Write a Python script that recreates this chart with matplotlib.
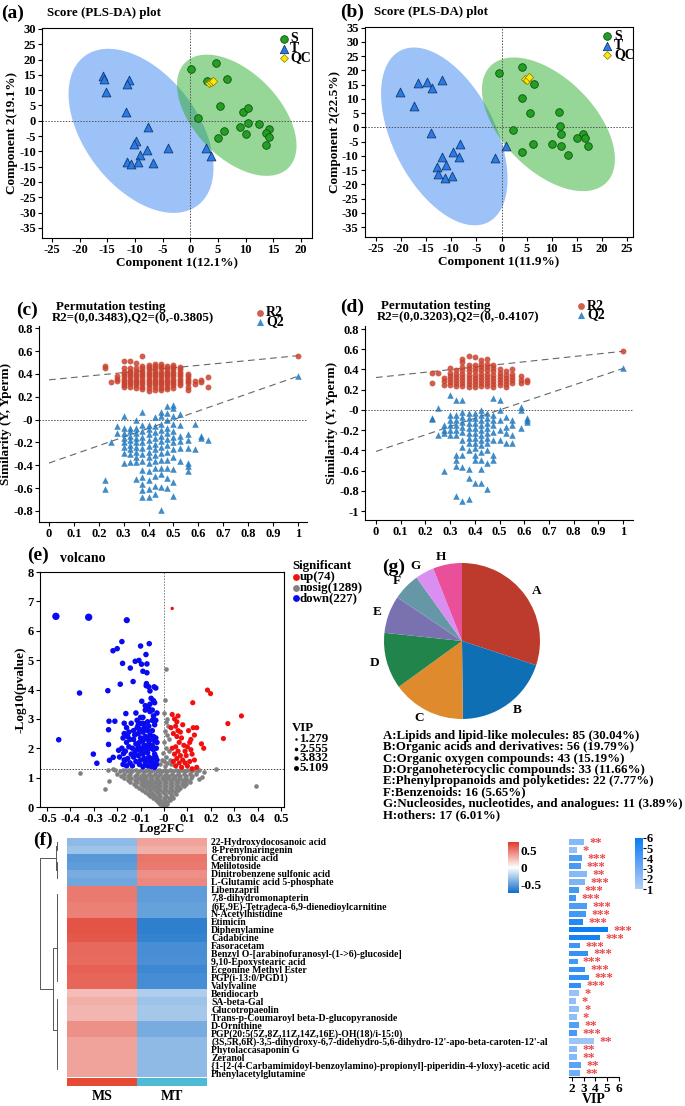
import numpy as np
import matplotlib
matplotlib.use('Agg')
import matplotlib.pyplot as plt
from matplotlib.colors import LinearSegmentedColormap, Normalize
from matplotlib.cm import ScalarMappable
from matplotlib.ticker import FuncFormatter

plt.rcParams['font.family'] = ['Liberation Serif', 'DejaVu Serif']
plt.rcParams['font.weight'] = 'bold'
plt.rcParams['axes.labelweight'] = 'bold'
plt.rcParams['axes.unicode_minus'] = False
plt.rcParams['axes.linewidth'] = 0.8
plt.rcParams['xtick.major.width'] = 0.8
plt.rcParams['ytick.major.width'] = 0.8
plt.rcParams['xtick.major.size'] = 3
plt.rcParams['ytick.major.size'] = 3
plt.rcParams['xtick.major.pad'] = 1.5
plt.rcParams['ytick.major.pad'] = 1.5

# ======================= DATA =======================
# (a) PLS-DA scores
a_S_x = [0.15, 4.7, 6.65, 3.05, 5.45, 1.4, 9.55, 10.4, 9.0, 10.5, 12.4, 14.2, 13.6, 14.2, 6.05, 5.0, 10.0, 13.6]
a_S_y = [16.9, 18.9, 13.8, 12.9, 4.9, 0.9, 2.8, 4.1, -2.2, -0.8, -1.0, -2.8, -3.9, -5.2, -3.5, -5.5, -4.4, -7.9]
a_T_x = [-15.85, -15.55, -15.2, -11.0, -11.4, -11.6, -7.6, -9.8, -10.1, -7.8, -4.1, -9.05, -11.4, -10.7, -9.5, -6.65, 2.8, 3.7]
a_T_y = [14.7, 13.8, 9.5, 13.3, 12.0, 3.0, -1.9, -6.5, -7.7, -9.7, -8.9, -11.1, -13.4, -14.1, -13.5, -13.7, -8.8, -11.4]
a_QC_x = [3.4, 3.8, 4.1]
a_QC_y = [12.2, 12.7, 13.0]
# (b) PLS-DA scores
b_S_x = [-0.5, 4.0, 6.4, 4.1, 5.7, 2.2, 11.4, 11.7, 11.8, 16.2, 15.1, 16.7, 17.2, 10.1, 11.9, 13.3, 6.3, 4.1]
b_S_y = [19.0, 21.1, 15.3, 10.3, 4.9, -0.8, 5.5, 0.6, -2.2, -2.3, -3.9, -3.9, -6.6, -6.0, -6.7, -9.7, -6.0, -8.8]
b_T_x = [-20.2, -16.7, -14.9, -13.9, -11.8, -17.5, -14.1, -8.25, -9.6, -11.8, -8.4, -11.0, -12.9, -12.7, -11.2, -9.8, -1.2, 0.8]
b_T_y = [12.3, 15.6, 15.8, 13.7, 16.5, 7.6, -2.0, -6.0, -8.7, -10.4, -10.5, -13.2, -13.8, -16.3, -17.7, -17.2, -10.9, -6.7]
b_QC_x = [4.6, 5.0, 5.4]
b_QC_y = [17.0, 16.5, 17.7]

# (c) permutation test: x = correlation, lists of similarity values per column
c_cols = [0.225, 0.25, 0.275, 0.30, 0.325, 0.35, 0.375, 0.40, 0.425, 0.45, 0.475, 0.50, 0.525, 0.56, 0.585, 0.61, 0.64, 1.0]
c_R2 = [[0.47, 0.45], [0.33], [0.38, 0.36, 0.34],
        [0.51, 0.45, 0.42, 0.40, 0.38, 0.36, 0.34, 0.32, 0.30, 0.29],
        [0.51, 0.45, 0.43, 0.41, 0.39, 0.37, 0.35, 0.33, 0.31, 0.29],
        [0.50, 0.45, 0.43, 0.40, 0.38, 0.36, 0.34, 0.32, 0.30, 0.28],
        [0.56, 0.47, 0.45, 0.43, 0.41, 0.39, 0.37, 0.35, 0.33, 0.31, 0.29, 0.27],
        [0.48, 0.46, 0.44, 0.42, 0.40, 0.38, 0.36, 0.34, 0.32, 0.30, 0.28, 0.25],
        [0.49, 0.47, 0.45, 0.43, 0.41, 0.39, 0.37, 0.35, 0.33, 0.31, 0.29, 0.26],
        [0.49, 0.47, 0.45, 0.42, 0.40, 0.38, 0.36, 0.34, 0.32, 0.30, 0.28, 0.26],
        [0.47, 0.45, 0.43, 0.41, 0.39, 0.37, 0.35, 0.33, 0.31, 0.29, 0.27],
        [0.48, 0.46, 0.44, 0.42, 0.40, 0.38, 0.36, 0.34, 0.32, 0.30, 0.28],
        [0.46, 0.44, 0.42, 0.40, 0.38, 0.36, 0.34, 0.32, 0.30],
        [0.40, 0.38, 0.36, 0.34, 0.32, 0.29, 0.26],
        [0.34, 0.31], [0.35, 0.33], [0.37, 0.29], [0.56]]
c_Q2 = [[-0.53, -0.61], [-0.20], [-0.06, -0.12],
        [0.03, -0.07, -0.12, -0.16, -0.20, -0.24, -0.29, -0.38],
        [-0.07, -0.10, -0.14, -0.18, -0.22, -0.26, -0.30, -0.37],
        [0.00, -0.07, -0.12, -0.16, -0.20, -0.24, -0.28, -0.33, -0.37, -0.52],
        [0.07, -0.05, -0.10, -0.15, -0.20, -0.25, -0.30, -0.36, -0.44, -0.50, -0.56, -0.62, -0.68],
        [-0.05, -0.08, -0.13, -0.18, -0.23, -0.28, -0.33, -0.38, -0.45, -0.53, -0.61, -0.68],
        [0.02, -0.06, -0.11, -0.16, -0.21, -0.26, -0.31, -0.36, -0.42, -0.49, -0.58, -0.65],
        [0.07, 0.03, -0.04, -0.09, -0.14, -0.19, -0.24, -0.29, -0.35, -0.42, -0.48, -0.59, -0.79],
        [0.12, 0.06, 0.00, -0.07, -0.12, -0.17, -0.22, -0.28, -0.35, -0.42, -0.51, -0.60],
        [0.13, 0.10, 0.03, -0.04, -0.10, -0.15, -0.20, -0.26, -0.33, -0.43, -0.55, -0.67],
        [0.05, -0.05, -0.14, -0.19, -0.25, -0.36],
        [-0.13, -0.18, -0.25, -0.38, -0.41, -0.45],
        [-0.04, -0.26], [-0.14, -0.16], [-0.18], [0.38]]
c_R2_line = (0.3483, 0.56)
c_Q2_line = (-0.3805, 0.38)

# (d) permutation test
d_cols = [0.225, 0.25, 0.275, 0.30, 0.325, 0.35, 0.375, 0.40, 0.425, 0.45, 0.475, 0.50, 0.525, 0.55, 0.585, 0.61, 1.0]
d_R2 = [[0.37, 0.27], [0.37], [0.32, 0.29, 0.25],
        [0.41, 0.37, 0.34, 0.31, 0.28, 0.25],
        [0.39, 0.36, 0.33, 0.30, 0.27, 0.24],
        [0.50, 0.47, 0.42, 0.39, 0.36, 0.33, 0.30, 0.27, 0.24],
        [0.53, 0.44, 0.41, 0.38, 0.35, 0.32, 0.29, 0.26, 0.23],
        [0.52, 0.44, 0.41, 0.38, 0.35, 0.32, 0.29, 0.26, 0.23],
        [0.49, 0.45, 0.42, 0.39, 0.36, 0.33, 0.30, 0.27, 0.24],
        [0.50, 0.45, 0.42, 0.39, 0.36, 0.33, 0.30, 0.27, 0.24],
        [0.44, 0.41, 0.38, 0.35, 0.32, 0.29, 0.26, 0.23],
        [0.40, 0.37, 0.34, 0.31, 0.28, 0.25],
        [0.38, 0.35, 0.32, 0.29, 0.26, 0.23],
        [0.40, 0.36, 0.33, 0.30, 0.27],
        [0.34, 0.30, 0.27], [0.30, 0.28], [0.58]]
d_Q2 = [[-0.08, -0.09], [0.02, -0.25], [-0.15, -0.20, -0.23, -0.60],
        [0.15, -0.05, -0.10, -0.15, -0.20, -0.25],
        [0.10, -0.05, -0.10, -0.15, -0.20, -0.25, -0.45, -0.50, -0.55, -0.85],
        [0.10, -0.02, -0.07, -0.12, -0.17, -0.22, -0.30, -0.37, -0.45, -0.56, -0.90],
        [-0.03, -0.08, -0.13, -0.18, -0.23, -0.28, -0.33, -0.40, -0.58, -0.67, -0.88],
        [-0.03, -0.08, -0.13, -0.18, -0.23, -0.28, -0.33, -0.38, -0.45, -0.50, -0.72],
        [0.00, -0.05, -0.10, -0.15, -0.20, -0.25, -0.30, -0.35, -0.42, -0.50, -0.58, -0.72],
        [-0.03, -0.08, -0.13, -0.18, -0.23, -0.28, -0.33, -0.40, -0.53, -0.78],
        [0.12, -0.05, -0.10, -0.15, -0.22, -0.30, -0.45, -0.50],
        [0.10, 0.00, -0.10, -0.20, -0.30],
        [-0.07, -0.17, -0.23, -0.33],
        [-0.10, -0.15, -0.25, -0.33],
        [0.03, 0.00, -0.18], [-0.08, -0.10, -0.12], [0.41]]
d_R2_line = (0.3203, 0.58)
d_Q2_line = (-0.4107, 0.41)

# (e) volcano
down_pts = [(-0.462, 6.49), (-0.322, 6.46), (-0.159, 6.36), (-0.361, 3.88), (-0.45, 2.29), (-0.302, 1.80),
            (-0.287, 1.49), (-0.18, 5.63), (-0.2, 5.39), (-0.218, 5.32), (-0.177, 4.89), (-0.187, 4.18),
            (-0.24, 3.96), (-0.144, 4.73), (-0.132, 4.27), (-0.1, 5.48), (-0.063, 5.56), (-0.123, 4.96),
            (-0.107, 4.99), (-0.096, 4.86), (-0.073, 4.87), (-0.077, 5.19), (-0.09, 4.62), (-0.073, 4.57),
            (-0.076, 4.13), (-0.065, 4.09), (-0.042, 4.09), (-0.235, 2.92), (-0.237, 2.63), (-0.237, 2.13),
            (-0.233, 1.59), (-0.217, 1.69), (-0.21, 2.92), (-0.194, 1.93), (-0.163, 3.18), (-0.17, 2.85),
            (-0.173, 1.82), (-0.166, 1.59), (-0.075, 4.2), (-0.06, 3.95), (-0.055, 3.7), (-0.045, 3.62),
            (-0.07, 3.4), (-0.08, 3.3), (-0.065, 3.35), (-0.06, 3.25), (-0.09, 3.05), (-0.1, 2.85),
            (-0.085, 2.82), (-0.115, 2.7), (-0.16, 2.7), (-0.15, 2.55), (-0.155, 2.4), (-0.145, 2.3),
            (-0.16, 2.2), (-0.15, 2.05), (-0.165, 1.9), (-0.14, 1.8), (-0.155, 1.65), (-0.145, 1.5),
            (-0.16, 1.4), (-0.13, 2.6), (-0.125, 2.45), (-0.13, 2.3), (-0.12, 2.15), (-0.135, 2.0),
            (-0.125, 1.85), (-0.13, 1.7), (-0.12, 1.55), (-0.135, 1.4), (-0.11, 2.8), (-0.105, 2.65),
            (-0.11, 2.5), (-0.1, 2.35), (-0.105, 2.2), (-0.11, 2.05), (-0.1, 1.9), (-0.11, 1.75),
            (-0.1, 1.6), (-0.105, 1.45), (-0.09, 2.85), (-0.085, 2.7), (-0.09, 2.55), (-0.08, 2.4),
            (-0.09, 2.25), (-0.085, 2.1), (-0.08, 1.95), (-0.09, 1.8), (-0.085, 1.65), (-0.08, 1.5),
            (-0.09, 1.37), (-0.07, 2.9), (-0.065, 2.75), (-0.07, 2.6), (-0.06, 2.45), (-0.07, 2.3),
            (-0.065, 2.15), (-0.06, 2.0), (-0.07, 1.85), (-0.065, 1.7), (-0.06, 1.55), (-0.07, 1.4),
            (-0.05, 3.3), (-0.045, 3.1), (-0.05, 2.95), (-0.04, 2.8), (-0.05, 2.6), (-0.045, 2.4),
            (-0.04, 2.25), (-0.05, 2.1), (-0.045, 1.95), (-0.04, 1.8), (-0.05, 1.65), (-0.045, 1.5),
            (-0.04, 1.35), (-0.035, 2.35), (-0.033, 2.0), (-0.035, 1.7), (-0.032, 1.45), (-0.08, 3.45),
            (-0.06, 3.5), (-0.095, 3.6), (-0.1, 3.05), (-0.12, 3.2), (-0.14, 2.85), (-0.17, 2.5),
            (-0.175, 2.35), (-0.18, 2.0), (-0.17, 1.6), (-0.175, 1.45), (-0.19, 1.7), (-0.115, 2.95),
            (-0.035, 2.95), (-0.03, 3.2), (-0.04, 3.55), (-0.035, 4.05), (-0.055, 1.38), (-0.03, 1.6),
            (-0.03, 2.2), (-0.075, 2.05), (-0.095, 2.0), (-0.115, 1.95), (-0.055, 2.3), (-0.075, 1.6)]
up_pts = [(0.035, 6.76), (0.186, 3.98), (0.199, 3.86), (0.123, 3.55), (0.331, 3.10), (0.273, 2.84),
          (0.254, 2.33), (0.035, 3.15), (0.045, 3.0), (0.055, 2.9), (0.05, 2.75), (0.06, 2.6),
          (0.04, 2.5), (0.055, 2.4), (0.07, 2.55), (0.075, 2.35), (0.065, 2.2), (0.05, 2.05),
          (0.06, 1.9), (0.045, 1.8), (0.055, 1.65), (0.07, 1.75), (0.08, 1.6), (0.065, 1.5),
          (0.05, 1.4), (0.09, 1.9), (0.1, 2.05), (0.095, 1.75), (0.11, 1.55), (0.1, 1.4),
          (0.12, 1.8), (0.115, 2.3), (0.105, 2.6), (0.13, 2.45), (0.125, 2.7), (0.14, 2.7),
          (0.11, 2.2), (0.085, 2.1), (0.09, 1.5), (0.075, 1.35), (0.13, 1.6), (0.14, 1.35),
          (0.16, 2.15), (0.17, 2.0), (0.12, 1.3), (0.04, 1.55), (0.035, 2.0), (0.03, 2.7),
          (0.06, 3.1), (0.115, 1.95), (0.08, 2.8)]
nosig_rows = [
    (1.27, [-0.21, -0.175, -0.15, -0.12, -0.095, -0.07, -0.045, -0.02, 0.005, 0.025, 0.05, 0.075, 0.1, 0.125, 0.15]),
    (1.21, [-0.19, -0.16, -0.135, -0.105, -0.08, -0.055, -0.03, -0.01, 0.015, 0.04, 0.065, 0.09, 0.115, 0.14]),
    (1.14, [-0.2, -0.17, -0.145, -0.115, -0.09, -0.065, -0.04, -0.015, 0.01, 0.035, 0.06, 0.085, 0.11, 0.135]),
    (1.07, [-0.185, -0.155, -0.125, -0.1, -0.075, -0.05, -0.025, 0.0, 0.02, 0.045, 0.07, 0.095, 0.12]),
    (1.0, [-0.17, -0.14, -0.11, -0.085, -0.06, -0.035, -0.01, 0.015, 0.04, 0.065, 0.09, 0.115]),
    (0.93, [-0.155, -0.125, -0.1, -0.075, -0.05, -0.025, 0.0, 0.025, 0.05, 0.075, 0.1]),
    (0.86, [-0.145, -0.115, -0.09, -0.065, -0.04, -0.015, 0.01, 0.035, 0.06, 0.085, 0.11]),
    (0.79, [-0.13, -0.1, -0.075, -0.05, -0.025, 0.0, 0.025, 0.05, 0.075, 0.095]),
    (0.72, [-0.12, -0.09, -0.065, -0.04, -0.015, 0.01, 0.035, 0.06, 0.085]),
    (0.65, [-0.105, -0.075, -0.05, -0.025, 0.0, 0.025, 0.05, 0.07]),
    (0.58, [-0.095, -0.065, -0.04, -0.015, 0.01, 0.035, 0.06]),
    (0.51, [-0.08, -0.055, -0.03, -0.005, 0.02, 0.045]),
    (0.44, [-0.07, -0.045, -0.02, 0.005, 0.03, 0.05]),
    (0.37, [-0.06, -0.04, -0.015, 0.01, 0.035]),
    (0.30, [-0.045, -0.025, 0.0, 0.02, 0.04]),
    (0.23, [-0.035, -0.015, 0.005, 0.025]),
    (0.16, [-0.025, -0.005, 0.015]),
    (0.09, [-0.015, 0.0, 0.012]),
    (0.03, [-0.005, 0.005]),
]
nosig_extra = [(0.005, 1.4), (0.0, 1.55), (0.01, 1.7), (-0.005, 1.85), (0.008, 2.0), (0.0, 2.2), (0.012, 2.45),
               (0.003, 2.6), (0.01, 2.9), (0.002, 3.2), (0.004, 3.63), (0.008, 4.69), (0.015, 1.5), (0.02, 1.9),
               (0.02, 2.3), (0.025, 1.6), (-0.015, 1.45), (-0.01, 1.6), (0.018, 2.75), (0.015, 3.0), (0.03, 1.45),
               (-0.361, 1.16), (-0.254, 0.62), (-0.234, 0.89), (0.223, 1.28), (0.161, 1.01), (0.392, 0.70),
               (0.17, 1.2), (0.15, 0.95), (-0.24, 1.25), (-0.22, 1.3)]
volcano_counts = {'up': 74, 'nosig': 1289, 'down': 227}
vip_legend = [1.279, 2.555, 3.832, 5.109]

# (g) pie
pie_letters = ['A', 'B', 'C', 'D', 'E', 'F', 'G', 'H']
pie_names = ['Lipids and lipid-like molecules', 'Organic acids and derivatives', 'Organic oxygen compounds',
             'Organoheterocyclic compounds', 'Phenylpropanoids and polyketides', 'Benzenoids',
             'Nucleosides, nucleotides, and analogues', 'others']
pie_counts = [85, 56, 43, 33, 22, 16, 11, 17]
pie_colors = ['#bd3b2c', '#0f6fb4', '#df8a2c', '#21844a', '#7a72b0', '#6697a7', '#d98ff2', '#ea4f9a']

# (f) heatmap + VIP
metabolites = ['22-Hydroxydocosanoic acid', '8-Prenylnaringenin', 'Cerebronic acid', 'Melilotoside',
               'Dinitrobenzene sulfonic acid', 'L-Glutamic acid 5-phosphate', 'Libenzapril',
               '7,8-dihydromonapterin', '(6E,9E)-Tetradeca-6,9-dienedioylcarnitine', 'N-Acetylhistidine',
               'Etimicin', 'Diphenylamine', 'Cadabicine', 'Fasoracetam',
               'Benzyl O-[arabinofuranosyl-(1->6)-glucoside]', '9,10-Epoxystearic acid',
               'Ecgonine Methyl Ester', 'PGP(i-13:0/PGD1)', 'Valylvaline', 'Bendiocarb', 'SA-beta-Gal',
               'Glucotropaeolin', 'Trans-p-Coumaroyl beta-D-glucopyranoside', 'D-Ornithine',
               'PGP(20:5(5Z,8Z,11Z,14Z,16E)-OH(18)/i-15:0)',
               "(3S,5R,6R)-3,5-dihydroxy-6,7-didehydro-5,6-dihydro-12'-apo-beta-caroten-12'-al",
               'Phytolaccasaponin G', 'Zeranol',
               '{1-[2-(4-Carbamimidoyl-benzoylamino)-propionyl]-piperidin-4-yloxy}-acetic acid',
               'Phenylacetylglutamine']
groups = ['MS', 'MT']
MS_vals = [-0.35, -0.30, -0.52, -0.50, -0.42, -0.45, 0.50, 0.50, 0.48, 0.48, 0.65, 0.65, 0.63, 0.57, 0.57,
           0.56, 0.60, 0.58, 0.58, 0.25, 0.30, 0.28, 0.28, 0.42, 0.42, 0.35, 0.35, 0.35, 0.35, 0.35]
MT_vals = [0.35, 0.30, 0.52, 0.50, 0.42, 0.45, -0.50, -0.50, -0.48, -0.48, -0.65, -0.65, -0.63, -0.57, -0.57,
           -0.56, -0.60, -0.58, -0.58, -0.25, -0.30, -0.28, -0.28, -0.42, -0.42, -0.35, -0.35, -0.35, -0.35, -0.35]
vip = [3.05, 2.43, 2.88, 2.77, 3.28, 3.10, 2.62, 2.40, 3.33, 3.22, 2.96, 5.09, 4.40, 2.70, 3.36, 2.50, 3.13,
       3.45, 2.79, 2.65, 2.37, 2.60, 2.45, 2.62, 2.43, 3.87, 2.43, 2.43, 2.79, 2.73]
vip_color = [2.3, 1.9, 4.0, 4.2, 2.3, 2.6, 4.3, 4.3, 4.0, 4.3, 5.2, 5.9, 5.6, 4.4, 4.7, 4.3, 4.7, 4.8, 4.8,
             1.8, 2.0, 2.0, 2.0, 3.8, 4.2, 1.6, 2.1, 2.4, 3.6, 3.0]
stars = [2, 1, 3, 3, 2, 3, 3, 3, 3, 3, 3, 3, 3, 3, 3, 3, 3, 3, 3, 1, 1, 1, 1, 2, 3, 2, 2, 2, 2, 2]
# row dendrogram: (height, left, right), leaves are row indices
dendro = (1.0,
          (0.11, (0.03, 0, 1), (0.05, (0.02, 2, 3), (0.02, 4, 5))),
          (0.29,
           (0.06, (0.045, (0.03, (0.01, 6, 7), (0.015, 8, 9)), (0.035, (0.02, 10, (0.01, 11, 12)),
                                                              (0.02, 13, (0.01, 14, 15)))),
            (0.03, 16, (0.015, 17, 18))),
           (0.06, (0.04, (0.025, 19, (0.01, 20, 21)), (0.015, 22, 23)),
            (0.045, (0.02, 24, 25), (0.03, (0.01, 26, 27), (0.015, 28, 29))))))

# ======================= LAYOUT =======================
W, H = 685, 1106
fig = plt.figure(figsize=(W / 100, H / 100), dpi=100)


def box(x0, y0, x1, y1):
    return [x0 / W, 1 - y1 / H, (x1 - x0) / W, (y1 - y0) / H]


fmt = FuncFormatter(lambda v, p: '%g' % round(v, 3))
BLUE_T = '#2a7be6'
GREEN_S = '#23a023'
TICK_FS = 9


def ellipse(ax, cx, cy, sx, sy, r, color):
    t = np.linspace(0, 2 * np.pi, 300)
    ax.fill(cx + sx * np.cos(t), cy + sy * (r * np.cos(t) + np.sqrt(1 - r * r) * np.sin(t)),
            color=color, alpha=0.5, lw=0, zorder=1)


def pls_panel(rect, S_x, S_y, T_x, T_y, Q_x, Q_y, xlim, ylim, xticks, yticks, ell_T, ell_S, xl, yl):
    ax = fig.add_axes(rect)
    ellipse(ax, *ell_T, '#3b86f0')
    ellipse(ax, *ell_S, '#2fae2f')
    ax.axhline(0, color='#555555', ls=(0, (1.5, 1.5)), lw=0.7, zorder=2)
    ax.axvline(0, color='#555555', ls=(0, (1.5, 1.5)), lw=0.7, zorder=2)
    ax.scatter(T_x, T_y, marker='^', s=40, c=BLUE_T, edgecolors='#123a70', linewidths=0.6, zorder=3)
    ax.scatter(S_x, S_y, marker='o', s=30, c=GREEN_S, edgecolors='#0f4f0f', linewidths=0.6, zorder=3)
    ax.scatter(Q_x, Q_y, marker='D', s=18, c='#fbe90a', edgecolors='#8a7a00', linewidths=0.5, zorder=4)
    ax.set_xlim(*xlim)
    ax.set_ylim(*ylim)
    ax.set_xticks(xticks)
    ax.set_yticks(yticks)
    ax.xaxis.set_major_formatter(fmt)
    ax.yaxis.set_major_formatter(fmt)
    ax.tick_params(labelsize=TICK_FS)
    ax.set_xlabel(xl, fontsize=9.5, labelpad=0.5)
    ax.set_ylabel(yl, fontsize=9.5, labelpad=1)
    return ax


ax_a = pls_panel(box(42, 28, 312, 238), a_S_x, a_S_y, a_T_x, a_T_y, a_QC_x, a_QC_y,
                 (-26.8, 22.0), (-38.3, 30.3), range(-25, 21, 5), range(-35, 31, 5),
                 (-8.9, -3.3, 13.1, 26.8, -0.45), (8.4, 1.8, 10.8, 19.8, -0.5),
                 'Component 1(12.1%)', 'Component 2(19.1%)')
ax_b = pls_panel(box(365, 27, 633, 237), b_S_x, b_S_y, b_T_x, b_T_y, b_QC_x, b_QC_y,
                 (-27.2, 26.2), (-38.5, 35.2), range(-25, 26, 5), range(-35, 36, 5),
                 (-11.4, -3.2, 12.6, 31.2, -0.48), (9.35, 1.05, 13.25, 23.45, -0.52),
                 'Component 1(11.9%)', 'Component 2(22.5%)')


def perm_panel(rect, cols, R2, Q2, R2line, Q2line, xlim, ylim, yticks):
    ax = fig.add_axes(rect)
    rx = [c for c, vals in zip(cols, R2) for v in vals]
    ry = [v for c, vals in zip(cols, R2) for v in vals]
    qx = [c for c, vals in zip(cols, Q2) for v in vals]
    qy = [v for c, vals in zip(cols, Q2) for v in vals]
    ax.axhline(0, color='#555555', ls=(0, (1.5, 1.5)), lw=0.7, zorder=1)
    ax.plot([0, 1], list(R2line), color='#666666', ls=(0, (6, 4)), lw=0.8, zorder=1)
    ax.plot([0, 1], list(Q2line), color='#666666', ls=(0, (6, 4)), lw=0.8, zorder=1)
    ax.scatter(rx, ry, marker='o', s=18, c='#c8432f', alpha=0.85, linewidths=0, zorder=2)
    ax.scatter(qx, qy, marker='^', s=22, c='#1f78be', alpha=0.85, linewidths=0, zorder=2)
    ax.set_xlim(*xlim)
    ax.set_ylim(*ylim)
    ax.set_xticks(np.round(np.arange(0, 1.01, 0.1), 2))
    ax.set_yticks(yticks)
    ax.xaxis.set_major_formatter(fmt)
    ax.yaxis.set_major_formatter(fmt)
    ax.spines['top'].set_visible(False)
    ax.spines['right'].set_visible(False)
    ax.tick_params(labelsize=TICK_FS)
    return ax


ax_c = perm_panel(box(39, 326, 307, 522), c_cols, c_R2, c_Q2, c_R2_line, c_Q2_line,
                  (-0.04, 1.036), (-0.897, 0.82), np.round(np.arange(-0.8, 0.81, 0.2), 1))
ax_c.set_ylabel('Similarity (Y, Yperm)', fontsize=9.5, labelpad=1)
ax_d = perm_panel(box(365, 326, 633, 520), d_cols, d_R2, d_Q2, d_R2_line, d_Q2_line,
                  (-0.0445, 1.04), (-1.089, 0.83), np.round(np.arange(-1.0, 0.81, 0.2), 1))
ax_d.set_ylabel('Similarity (Y, Yperm)', fontsize=9.5, labelpad=1)

# (e) volcano
ax_e = fig.add_axes(box(40, 572, 284, 807))
gx = [x for y, xs in nosig_rows for x in xs] + [p[0] for p in nosig_extra]
gy = [y for y, xs in nosig_rows for x in xs] + [p[1] for p in nosig_extra]
ax_e.scatter(gx, gy, s=11, c='#808080', linewidths=0, zorder=2)
ax_e.scatter([p[0] for p in up_pts], [p[1] for p in up_pts], s=[6] + [14] * (len(up_pts) - 1),
             c='#f01010', linewidths=0, zorder=3)
ax_e.scatter([p[0] for p in down_pts], [p[1] for p in down_pts], s=[28, 28, 20] + [16] * (len(down_pts) - 3),
             c='#0a0af0', linewidths=0, zorder=3)
ax_e.axhline(-np.log10(0.05), color='#444444', ls=(0, (1.5, 1.5)), lw=0.7, zorder=1)
ax_e.axvline(0, color='#777777', ls=(0, (1.5, 1.5)), lw=0.7, zorder=1)
ax_e.set_xlim(-0.53, 0.513)
ax_e.set_ylim(0, 8)
ax_e.set_xticks(np.round(np.arange(-0.5, 0.51, 0.1), 1))
ax_e.set_yticks(range(0, 9))
ax_e.xaxis.set_major_formatter(fmt)
ax_e.tick_params(labelsize=TICK_FS)
ax_e.set_xlabel('Log2FC', fontsize=9.5, labelpad=-1.5)
ax_e.set_ylabel('-Log10(pvalue)', fontsize=9.5, labelpad=1)

# (g) pie
ax_g = fig.add_axes(box(384, 563, 540, 719))
ax_g.pie(pie_counts, colors=pie_colors, labels=pie_letters, startangle=90, counterclock=False,
         labeldistance=1.1, textprops=dict(fontsize=9.5, fontweight='bold'))
ax_g.set_xlim(-1, 1)
ax_g.set_ylim(-1, 1)
ax_g.set_aspect('equal')

# (f) heatmap
cmap_h = LinearSegmentedColormap.from_list('hm', ['#0f6cc8', '#ffffff', '#e03a2a'])
ax_h = fig.add_axes(box(67, 838, 207, 1077))
hm = np.array([MS_vals, MT_vals]).T
ax_h.imshow(hm, cmap=cmap_h, vmin=-0.75, vmax=0.75, aspect='auto', interpolation='nearest')
ax_h.set_xticks([])
ax_h.yaxis.tick_right()
ax_h.set_yticks(range(len(metabolites)))
ax_h.set_yticklabels(metabolites, fontsize=7)
ax_h.tick_params(axis='y', length=0, pad=3)
for s in ax_h.spines.values():
    s.set_visible(False)

ax_grp = fig.add_axes(box(67, 1078, 207, 1086))
ax_grp.imshow([[0, 1]], cmap=LinearSegmentedColormap.from_list('g', ['#e64a35', '#4dbbd5']), aspect='auto')
ax_grp.axis('off')

ax_den = fig.add_axes(box(38, 838, 58, 1077))


def draw_tree(node):
    if isinstance(node, int):
        return node, 0.0
    h, l, r = node
    yl, hl = draw_tree(l)
    yr, hr = draw_tree(r)
    ax_den.plot([hl, h, h, hr], [yl, yl, yr, yr], color='#555555', lw=0.7)
    return (yl + yr) / 2, h


draw_tree(dendro)
ax_den.set_xlim(1.1, 0)
ax_den.set_ylim(len(metabolites) - 0.5, -0.5)
ax_den.axis('off')

# VIP bars
cmap_v = LinearSegmentedColormap.from_list('vip', ['#b3cff6', '#0a7bf5'])
norm_v = Normalize(1, 6)
ax_v = fig.add_axes(box(569, 838, 619, 1077))
yy = np.arange(len(vip))
ax_v.barh(yy, vip, height=0.72, color=cmap_v(norm_v(vip_color)))
for i, (v, n) in enumerate(zip(vip, stars)):
    ax_v.text(v + 0.45, i + 0.5, '*' * n, color='#e8474a', fontsize=9, va='baseline', ha='left',
              clip_on=False)
ax_v.set_xlim(1.77, 6.0)
ax_v.set_ylim(len(vip) - 0.5, -0.5)
ax_v.set_xticks([2, 3, 4, 5, 6])
ax_v.set_yticks([])
for k in ['top', 'right', 'left']:
    ax_v.spines[k].set_visible(False)
ax_v.tick_params(axis='x', labelsize=9.5, length=3, pad=1)
ax_v.set_xlabel('VIP', fontsize=10, labelpad=-1)

# colorbars
cax1 = fig.add_axes(box(508, 842, 519, 893))
cb1 = fig.colorbar(ScalarMappable(Normalize(-0.75, 0.75), cmap_h), cax=cax1, ticks=[0.5, 0, -0.5])
cb1.ax.set_yticklabels(['0.5', '0', '-0.5'], fontsize=9.5)
cb1.outline.set_visible(False)
cb1.ax.tick_params(length=0, pad=1)
cax2 = fig.add_axes(box(635, 838, 643, 889))
cb2 = fig.colorbar(ScalarMappable(norm_v, cmap_v), cax=cax2, ticks=[1, 2, 3, 4, 5, 6])
cb2.ax.set_yticklabels(['1', '2', '3', '4', '5', '6'], fontsize=9)
cb2.outline.set_visible(False)
cb2.ax.tick_params(length=2, pad=0.5)

# ======================= OVERLAY TEXT / LEGENDS =======================
ov = fig.add_axes([0, 0, 1, 1])
ov.set_xlim(0, W)
ov.set_ylim(H, 0)
ov.axis('off')


def label(x, y, s, size=14):
    ov.text(x, y, s, fontsize=size, fontweight='bold', va='center', ha='left')


label(1, 13, '(a)'); label(340, 12, '(b)'); label(16, 310, '(c)'); label(340, 307, '(d)')
label(27, 555, '(e)'); label(33, 840, '(f)'); label(382, 567, '(g)')
ov.text(47, 13, 'Score (PLS-DA) plot', fontsize=9.3, va='center')
ov.text(374, 12, 'Score (PLS-DA) plot', fontsize=9.3, va='center')
ov.text(56, 307, 'Permutation testing', fontsize=9.3, va='center')
ov.text(52, 318, 'R2=(0,%s),Q2=(0,%s)' % (c_R2_line[0], c_Q2_line[0]), fontsize=9.3, va='center')
ov.text(381, 306, 'Permutation testing', fontsize=9.3, va='center')
ov.text(377, 317, 'R2=(0,%s),Q2=(0,%s)' % (d_R2_line[0], d_Q2_line[0]), fontsize=9.3, va='center')
ov.text(60, 558, 'volcano', fontsize=10, va='center')

# PLS legends
for (mx, my0, tx) in [(284, 39, 290), (607, 36, 614)]:
    ov.scatter([mx], [my0], marker='o', s=30, c=GREEN_S, edgecolors='#0f4f0f', linewidths=0.6)
    ov.scatter([mx], [my0 + 9.5], marker='^', s=36, c=BLUE_T, edgecolors='#123a70', linewidths=0.6)
    ov.scatter([mx], [my0 + 19], marker='D', s=16, c='#fbe90a', edgecolors='#8a7a00', linewidths=0.5)
    for k, t in enumerate(['S', 'T', 'QC']):
        ov.text(tx, my0 + 9.5 * k, t, fontsize=10, va='center')
# permutation legends
for (mx, my0) in [(260, 313), (581, 306)]:
    ov.scatter([mx], [my0], marker='o', s=24, c='#c8432f', alpha=0.85, linewidths=0)
    ov.scatter([mx], [my0 + 9], marker='^', s=26, c='#1f78be', alpha=0.85, linewidths=0)
    ov.text(mx + 6, my0, 'R2', fontsize=10, va='center')
    ov.text(mx + 6, my0 + 9, 'Q2', fontsize=10, va='center')
# volcano legends
ov.text(292, 566, 'Significant', fontsize=9.3, va='center')
for k, (nm, col) in enumerate([('up', '#f01010'), ('nosig', '#808080'), ('down', '#0a0af0')]):
    ov.scatter([296], [577 + 10.5 * k], s=24, c=col, linewidths=0)
    ov.text(300, 577 + 10.5 * k, '%s(%d)' % (nm, volcano_counts[nm]), fontsize=9.3, va='center')
ov.text(292, 728, 'VIP', fontsize=9.3, va='center')
for k, v in enumerate(vip_legend):
    ov.scatter([296], [739 + 9.6 * k], s=2.5 * v, c='black', linewidths=0)
    ov.text(300, 739 + 9.6 * k, '%.3f' % v, fontsize=9.3, va='center')
# pie legend
tot = sum(pie_counts)
for k, (l, n, c) in enumerate(zip(pie_letters, pie_names, pie_counts)):
    ov.text(383, 736 + 11.3 * k, '%s:%s: %d (%.2f%%)' % (l, n, c, 100 * c / tot), fontsize=9.3, va='center')
# heatmap group labels
for k, g in enumerate(groups):
    ov.text(102 + 70 * k, 1096, g, fontsize=10, va='center', ha='center')

fig.savefig('out.png', dpi=100)
